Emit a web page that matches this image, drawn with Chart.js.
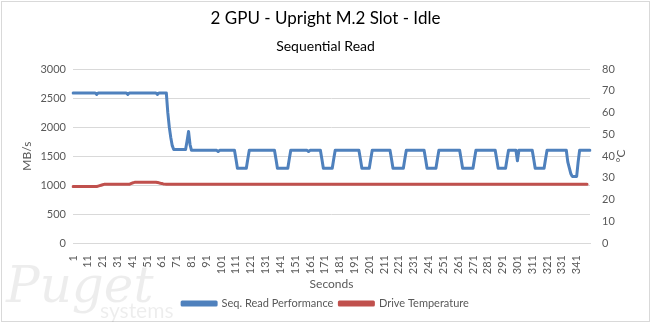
<!DOCTYPE html>
<html>
<head>
<meta charset="utf-8">
<script src="https://cdn.jsdelivr.net/npm/chart.js@4.4.1/dist/chart.umd.min.js"></script>
<style>
  html, body { margin: 0; padding: 0; background: #fff; }
  #wrap { width: 651px; height: 323px; }
</style>
</head>
<body>
<div id="wrap"><canvas id="myChart" width="651" height="323"></canvas></div>
<script>
// ── Sampled log: one reading per second ──────
const SAMPLE_COUNT = 350;
const seconds = [];
for (let s = 1; s <= SAMPLE_COUNT; s++) seconds.push(s);

// Sequential read speed (MB/s), stored as [value, how many seconds it held]
const readRuns = [
  [2590, 16], [2565, 1], [2590, 20], [2565, 1], [2590, 19], [2565, 1], [2590, 6],
  [2250, 1], [2000, 1], [1820, 1], [1680, 1], [1615, 9], [1760, 1], [1925, 1], [1700, 1],
  [1600, 18], [1580, 1], [1600, 11], [1450, 1], [1290, 7], [1450, 1],
  [1600, 18], [1450, 1], [1290, 8], [1450, 1],
  [1600, 12], [1580, 1], [1600, 8], [1450, 1], [1290, 7], [1450, 1],
  [1600, 17], [1450, 1], [1290, 6], [1450, 1],
  [1600, 13], [1450, 1], [1290, 8], [1450, 1],
  [1600, 13], [1450, 1], [1290, 7], [1450, 1],
  [1600, 15], [1450, 1], [1290, 8], [1450, 1],
  [1600, 14], [1450, 1], [1290, 6], [1450, 1],
  [1600, 6], [1420, 1], [1600, 10], [1450, 1], [1290, 7], [1450, 1],
  [1600, 14], [1400, 1], [1300, 1], [1200, 1], [1150, 4], [1400, 1], [1600, 8]
];

// Drive temperature (°C), same run format — logging stops a few seconds early
const tempRuns = [
  [26, 17], [26.2, 1], [26.4, 1], [26.6, 1], [26.8, 1],
  [27, 18], [27.3, 1], [27.6, 1], [27.8, 1],
  [28, 15], [27.85, 1], [27.7, 1], [27.5, 1], [27.35, 1], [27.2, 1], [27.1, 1],
  [27, 285]
];

const readTicks = [0, 500, 1000, 1500, 2000, 2500, 3000];
const tempTicks = [0, 10, 20, 30, 40, 50, 60, 70, 80];

const FONT = 'Lato, "Open Sans", sans-serif';
const GREY = '#595959';

/**
 * Turns [value, count] runs into a flat per-second list.
 */
function expandRuns(runs) {
  const out = [];
  runs.forEach(([v, n]) => { for (let i = 0; i < n; i++) out.push(v); });
  return out;
}

const readSpeed = expandRuns(readRuns);
const driveTemp = expandRuns(tempRuns);

// ── Frame, watermark and the right-hand axis title ──
const decorPlugin = {
  id: 'decor',
  beforeDraw(chart) {
    const ctx = chart.ctx;
    ctx.save();
    ctx.fillStyle = '#fff';
    ctx.fillRect(0, 0, chart.width, chart.height);
    ctx.strokeStyle = '#d9d9d9';
    ctx.lineWidth = 1;
    ctx.strokeRect(1.5, 1.5, chart.width - 3, chart.height - 3);

    // faint company mark, bottom left
    ctx.fillStyle = 'rgba(0,0,0,0.07)';
    ctx.font = 'italic 50px "DejaVu Serif", serif';
    ctx.textBaseline = 'alphabetic';
    ctx.fillText('Puget', 6, 302);
    ctx.font = '21px ' + FONT;
    ctx.fillText('systems', 100, 318);
    ctx.restore();
  },
  afterDraw(chart) {
    const ctx = chart.ctx;
    const area = chart.chartArea;
    ctx.save();
    ctx.translate(621, (area.top + area.bottom) / 2);
    ctx.rotate(-Math.PI / 2);
    ctx.fillStyle = GREY;
    ctx.font = '12px ' + FONT;
    ctx.textAlign = 'center';
    ctx.textBaseline = 'middle';
    ctx.fillText('°C', 0, 0);
    ctx.restore();
  }
};

const ctx = document.getElementById('myChart').getContext('2d');

new Chart(ctx, {
  type: 'line',
  data: {
    labels: seconds,
    datasets: [
      {
        label: 'Seq. Read Performance',
        data: readSpeed,
        yAxisID: 'y',
        borderColor: '#4f81bd',
        backgroundColor: '#4f81bd',
        borderWidth: 3,
        pointRadius: 0,
        tension: 0,
        borderJoinStyle: 'round',
        borderCapStyle: 'round'
      },
      {
        label: 'Drive Temperature',
        data: driveTemp,
        yAxisID: 'y1',
        borderColor: '#c0504d',
        backgroundColor: '#c0504d',
        borderWidth: 3,
        pointRadius: 0,
        tension: 0,
        borderJoinStyle: 'round',
        borderCapStyle: 'round'
      }
    ]
  },
  options: {
    responsive: false,
    animation: false,
    layout: { padding: { left: 0, right: 0, top: 0, bottom: 4 } },
    plugins: {
      title: {
        display: true,
        text: '2 GPU - Upright M.2 Slot - Idle',
        color: '#000',
        font: { family: FONT, size: 17, weight: 'normal' },
        padding: { top: 8, bottom: 5 }
      },
      subtitle: {
        display: true,
        text: 'Sequential Read',
        color: '#000',
        font: { family: FONT, size: 14 },
        padding: { top: 5, bottom: 14 }
      },
      legend: {
        position: 'bottom',
        labels: {
          boxWidth: 34,
          boxHeight: 3,
          color: GREY,
          font: { family: FONT, size: 11 },
          padding: 6
        }
      },
      tooltip: { enabled: false }
    },
    scales: {
      x: {
        grid: { display: false },
        border: { color: '#d9d9d9' },
        ticks: {
          autoSkip: false,
          minRotation: 90,
          maxRotation: 90,
          color: GREY,
          padding: 4,
          font: { family: FONT, size: 11 },
          callback: (val, i) => (i % 10 === 0 ? seconds[i] : '')
        },
        title: {
          display: true,
          text: 'Seconds',
          color: GREY,
          font: { family: FONT, size: 12 },
          padding: { top: 0, bottom: 1 }
        },
        afterFit: s => { s.height = 49; }
      },
      y: {
        position: 'left',
        min: 0,
        max: 3000,
        afterBuildTicks: s => { s.ticks = readTicks.map(v => ({ value: v })); },
        ticks: {
          color: GREY,
          padding: 7,
          font: { family: FONT, size: 11 },
          callback: v => String(v)
        },
        grid: { color: '#d9d9d9', drawTicks: false },
        border: { display: false },
        title: {
          display: true,
          text: 'MB/s',
          color: GREY,
          font: { family: FONT, size: 12 },
          padding: { top: 20, bottom: 0 }
        },
        afterFit: s => { s.width = 73; }
      },
      y1: {
        position: 'right',
        min: 0,
        max: 80,
        afterBuildTicks: s => { s.ticks = tempTicks.map(v => ({ value: v })); },
        ticks: {
          color: GREY,
          padding: 12,
          font: { family: FONT, size: 11 },
          callback: v => String(v)
        },
        grid: { display: false, drawTicks: false },
        border: { display: false },
        afterFit: s => { s.width = 61; }
      }
    }
  },
  plugins: [decorPlugin]
});
</script>
</body>
</html>
